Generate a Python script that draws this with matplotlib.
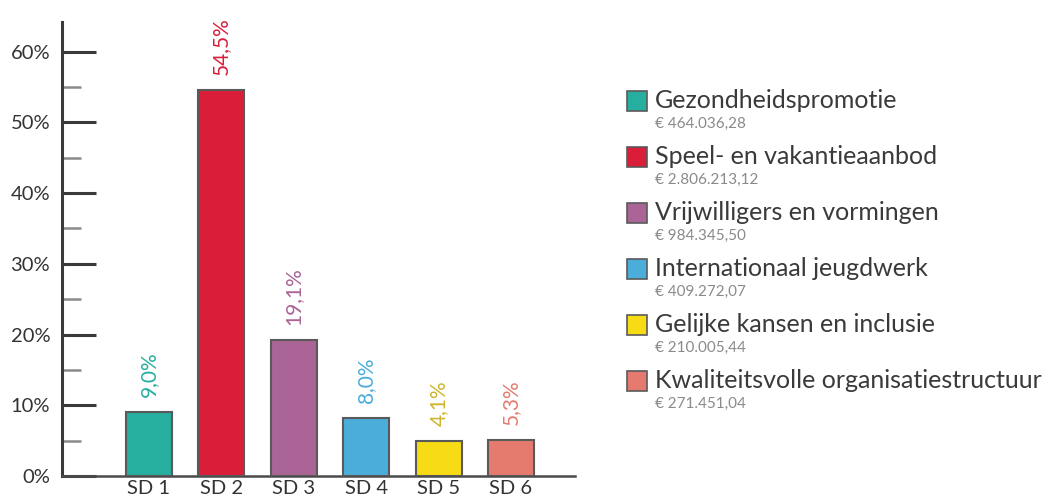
import matplotlib
matplotlib.use("Agg")
import matplotlib.pyplot as plt
from matplotlib.patches import Rectangle

plt.rcParams['font.family'] = ['Lato', 'DejaVu Sans']

categories = ["SD 1", "SD 2", "SD 3", "SD 4", "SD 5", "SD 6"]
bar_heights = [9.0, 54.6, 19.2, 8.2, 4.9, 5.1]
value_labels = ["9,0%", "54,5%", "19,1%", "8,0%", "4,1%", "5,3%"]
legend_names = ["Gezondheidspromotie", "Speel- en vakantieaanbod", "Vrijwilligers en vormingen",
                "Internationaal jeugdwerk", "Gelijke kansen en inclusie",
                "Kwaliteitsvolle organisatiestructuur"]
legend_amounts = ["€ 464.036,28", "€ 2.806.213,12", "€ 984.345,50",
                  "€ 409.272,07", "€ 210.005,44", "€ 271.451,04"]
yticks = [0, 10, 20, 30, 40, 50, 60]
ytick_labels = ["0%", "10%", "20%", "30%", "40%", "50%", "60%"]
minor_ticks = [5, 15, 25, 35, 45, 55]

colors = ["#26AE9E", "#DA1E3A", "#AB6496", "#4BADDA", "#F7DC15", "#E57B6F"]
label_colors = ["#26AE9E", "#DA1E3A", "#AB6496", "#4BADDA", "#CDB52E", "#E57B6F"]

W, H = 1049, 503
fig = plt.figure(figsize=(W / 100, H / 100), dpi=100)
ax = fig.add_axes([62 / W, 27 / H, 513 / W, 454 / H])

xs = list(range(len(categories)))
ax.bar(xs, bar_heights, width=0.635, color=colors, edgecolor="#5a5a5a", linewidth=1.5, zorder=3)
for x, h, lab, c in zip(xs, bar_heights, value_labels, label_colors):
    ax.annotate(lab, (x, h), xytext=(0, 11), textcoords="offset points",
                rotation=90, ha="center", va="bottom", color=c, fontsize=15)

ax.set_xlim(-1.2, 5.884)
ax.set_ylim(0, 64.2)
ax.set_xticks(xs)
ax.set_xticklabels(categories, fontsize=14.5, color="#333333")
ax.tick_params(axis="x", length=0, pad=3)
ax.set_yticks(yticks)
ax.set_yticklabels(ytick_labels, fontsize=14.5, color="#333333")
ax.set_yticks(minor_ticks, minor=True)
ax.tick_params(axis="y", which="major", direction="in", length=24.5, width=2.2,
               color="#3a3a3a", pad=8.5)
ax.tick_params(axis="y", which="minor", direction="in", length=13.7, width=1.8,
               color="#8a8a8a")
for s in ["top", "right"]:
    ax.spines[s].set_visible(False)
ax.spines["left"].set_linewidth(2.2)
ax.spines["left"].set_color("#3a3a3a")
ax.spines["bottom"].set_linewidth(1.8)
ax.spines["bottom"].set_color("#4a4a4a")

# legend
for i, (name, amt, c) in enumerate(zip(legend_names, legend_amounts, colors)):
    cy = 101 + 56 * i
    fig.patches.append(Rectangle((627 / W, 1 - (cy + 10) / H), 20 / W, 20 / H,
                                 transform=fig.transFigure, facecolor=c,
                                 edgecolor="#5a5a5a", linewidth=1.2))
    fig.text(655 / W, 1 - (cy - 1) / H, name, fontsize=18, color="#3a3a3a",
             ha="left", va="center")
    fig.text(655 / W, 1 - (cy + 23) / H, amt, fontsize=11, color="#8a8a8a",
             ha="left", va="center")

fig.savefig("out.png", dpi=100)
